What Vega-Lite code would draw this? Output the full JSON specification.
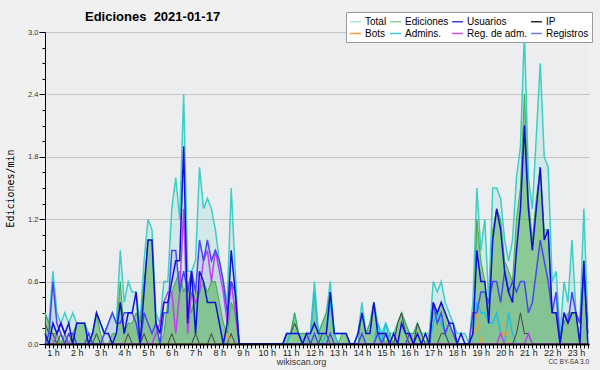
{
"$schema": "https://vega.github.io/schema/vega-lite/v6.json",
"width": 544, "height": 312,
"autosize": {"type": "none"},
"padding": {"left": 45, "top": 32, "right": 11, "bottom": 26},
"background": "#f0f0f0",
"config": {"view": {"fill": "#ecedef", "stroke": null}, "font": "Liberation Sans"},
"title": {"text": "Ediciones\u00a0 2021-01-17", "anchor": "start", "frame": "group", "dx": 40, "offset": -12, "fontSize": 13, "font": "Liberation Sans", "fontWeight": "bold", "color": "#000"},
"data": {"values": [
{"m":40,"tot":0.3,"ed":0.3,"us":0.1,"ip":0.2,"bo":0,"ad":0,"ra":0,"re":0},
{"m":50,"tot":0.2,"ed":0.2,"us":0,"ip":0.1,"bo":0,"ad":0,"ra":0,"re":0.1},
{"m":60,"tot":0.7,"ed":0.1,"us":0.2,"ip":0.1,"bo":0,"ad":0,"ra":0,"re":0.6},
{"m":70,"tot":0.3,"ed":0.1,"us":0.1,"ip":0,"bo":0,"ad":0,"ra":0.1,"re":0.2},
{"m":80,"tot":0.2,"ed":0,"us":0.2,"ip":0.1,"bo":0,"ad":0,"ra":0.2,"re":0.1},
{"m":90,"tot":0.3,"ed":0.1,"us":0.1,"ip":0,"bo":0,"ad":0,"ra":0.1,"re":0},
{"m":100,"tot":0.2,"ed":0,"us":0.2,"ip":0.1,"bo":0,"ad":0,"ra":0,"re":0.1},
{"m":110,"tot":0.3,"ed":0.1,"us":0,"ip":0,"bo":0,"ad":0,"ra":0,"re":0.1},
{"m":120,"tot":0.2,"ed":0.2,"us":0.2,"ip":0,"bo":0,"ad":0,"ra":0,"re":0},
{"m":130,"tot":0.2,"ed":0.2,"us":0.2,"ip":0,"bo":0,"ad":0,"ra":0,"re":0},
{"m":140,"tot":0.2,"ed":0.2,"us":0.2,"ip":0,"bo":0,"ad":0,"ra":0,"re":0},
{"m":150,"tot":0.1,"ed":0,"us":0,"ip":0.1,"bo":0,"ad":0,"ra":0,"re":0.1},
{"m":160,"tot":0.1,"ed":0.1,"us":0.1,"ip":0,"bo":0,"ad":0,"ra":0,"re":0},
{"m":170,"tot":0.3,"ed":0.3,"us":0.3,"ip":0.1,"bo":0,"ad":0,"ra":0,"re":0},
{"m":180,"tot":0.2,"ed":0.1,"us":0.2,"ip":0,"bo":0,"ad":0,"ra":0,"re":0},
{"m":190,"tot":0.1,"ed":0,"us":0.1,"ip":0,"bo":0,"ad":0,"ra":0,"re":0.1},
{"m":200,"tot":0.2,"ed":0,"us":0.1,"ip":0,"bo":0,"ad":0,"ra":0,"re":0.2},
{"m":210,"tot":0.3,"ed":0.1,"us":0,"ip":0,"bo":0,"ad":0,"ra":0,"re":0.3},
{"m":220,"tot":0.2,"ed":0.1,"us":0.1,"ip":0,"bo":0,"ad":0,"ra":0,"re":0.2},
{"m":230,"tot":0.9,"ed":0.6,"us":0.4,"ip":0,"bo":0,"ad":0,"ra":0,"re":0.2},
{"m":240,"tot":0.4,"ed":0.1,"us":0.1,"ip":0,"bo":0,"ad":0,"ra":0,"re":0.3},
{"m":250,"tot":0.6,"ed":0.2,"us":0.3,"ip":0.1,"bo":0,"ad":0,"ra":0,"re":0.3},
{"m":260,"tot":0.5,"ed":0.2,"us":0.3,"ip":0,"bo":0,"ad":0,"ra":0,"re":0.3},
{"m":270,"tot":0.5,"ed":0.3,"us":0.5,"ip":0,"bo":0,"ad":0,"ra":0,"re":0.2},
{"m":280,"tot":0.2,"ed":0.2,"us":0,"ip":0,"bo":0,"ad":0,"ra":0,"re":0},
{"m":290,"tot":0.8,"ed":0.6,"us":0.5,"ip":0.1,"bo":0,"ad":0,"ra":0,"re":0.3},
{"m":300,"tot":1.2,"ed":1.0,"us":1.0,"ip":0,"bo":0,"ad":0,"ra":0,"re":0.2},
{"m":310,"tot":1.1,"ed":1.0,"us":1.0,"ip":0,"bo":0,"ad":0,"ra":0,"re":0.1},
{"m":320,"tot":0.3,"ed":0.2,"us":0.2,"ip":0,"bo":0,"ad":0,"ra":0.1,"re":0.2},
{"m":330,"tot":0.2,"ed":0,"us":0.1,"ip":0,"bo":0,"ad":0,"ra":0.2,"re":0},
{"m":340,"tot":0.6,"ed":0.1,"us":0.4,"ip":0,"bo":0,"ad":0,"ra":0.4,"re":0.3},
{"m":350,"tot":0.6,"ed":0.4,"us":0.4,"ip":0,"bo":0,"ad":0,"ra":0.5,"re":0.3},
{"m":360,"tot":1.3,"ed":0.5,"us":0.6,"ip":0.1,"bo":0,"ad":0,"ra":0.5,"re":0.9},
{"m":370,"tot":1.6,"ed":0.6,"us":0.8,"ip":0,"bo":0,"ad":0,"ra":0.1,"re":0.9},
{"m":380,"tot":1.2,"ed":0.7,"us":0.8,"ip":0,"bo":0,"ad":0,"ra":0.5,"re":0.5},
{"m":390,"tot":2.4,"ed":0.5,"us":1.9,"ip":0,"bo":0,"ad":0,"ra":1.3,"re":0.7},
{"m":400,"tot":0.7,"ed":0.6,"us":0.2,"ip":0,"bo":0,"ad":0,"ra":0.1,"re":0.5},
{"m":410,"tot":0.7,"ed":0.3,"us":0.7,"ip":0,"bo":0,"ad":0,"ra":0.5,"re":0.7},
{"m":420,"tot":0.8,"ed":0.5,"us":0.1,"ip":0.1,"bo":0,"ad":0,"ra":0.4,"re":0.5},
{"m":430,"tot":1.7,"ed":0.5,"us":0.7,"ip":0,"bo":0,"ad":0,"ra":0.5,"re":1.0},
{"m":440,"tot":1.3,"ed":0.6,"us":0.6,"ip":0,"bo":0,"ad":0,"ra":0.8,"re":0.8},
{"m":450,"tot":1.4,"ed":0.5,"us":0.4,"ip":0,"bo":0,"ad":0,"ra":0.9,"re":1.0},
{"m":460,"tot":1.3,"ed":0.6,"us":0.4,"ip":0.1,"bo":0,"ad":0,"ra":0.6,"re":0.8},
{"m":470,"tot":1.1,"ed":0.6,"us":0.4,"ip":0,"bo":0,"ad":0,"ra":0.9,"re":0.9},
{"m":480,"tot":0.8,"ed":0.4,"us":0.2,"ip":0,"bo":0,"ad":0,"ra":0.7,"re":0.8},
{"m":490,"tot":0.6,"ed":0.2,"us":0,"ip":0,"bo":0,"ad":0,"ra":0.5,"re":0.6},
{"m":500,"tot":0.4,"ed":0.1,"us":0.2,"ip":0,"bo":0.1,"ad":0,"ra":0.2,"re":0.3},
{"m":510,"tot":1.5,"ed":0.4,"us":0.9,"ip":0.1,"bo":0,"ad":0,"ra":0.6,"re":0.6},
{"m":520,"tot":0.7,"ed":0.3,"us":0.5,"ip":0,"bo":0,"ad":0,"ra":0.3,"re":0.5},
{"m":530,"tot":0,"ed":0,"us":0,"ip":0,"bo":0,"ad":0,"ra":0,"re":0},
{"m":540,"tot":0,"ed":0,"us":0,"ip":0,"bo":0,"ad":0,"ra":0,"re":0},
{"m":550,"tot":0,"ed":0,"us":0,"ip":0,"bo":0,"ad":0,"ra":0,"re":0},
{"m":560,"tot":0,"ed":0,"us":0,"ip":0,"bo":0,"ad":0,"ra":0,"re":0},
{"m":570,"tot":0,"ed":0,"us":0,"ip":0,"bo":0,"ad":0,"ra":0,"re":0},
{"m":580,"tot":0,"ed":0,"us":0,"ip":0,"bo":0,"ad":0,"ra":0,"re":0},
{"m":590,"tot":0,"ed":0,"us":0,"ip":0,"bo":0,"ad":0,"ra":0,"re":0},
{"m":600,"tot":0,"ed":0,"us":0,"ip":0,"bo":0,"ad":0,"ra":0,"re":0},
{"m":610,"tot":0,"ed":0,"us":0,"ip":0,"bo":0,"ad":0,"ra":0,"re":0},
{"m":620,"tot":0,"ed":0,"us":0,"ip":0,"bo":0,"ad":0,"ra":0,"re":0},
{"m":630,"tot":0,"ed":0,"us":0,"ip":0,"bo":0,"ad":0,"ra":0,"re":0},
{"m":640,"tot":0,"ed":0,"us":0,"ip":0,"bo":0,"ad":0,"ra":0,"re":0},
{"m":650,"tot":0.1,"ed":0.1,"us":0.1,"ip":0.1,"bo":0,"ad":0,"ra":0,"re":0},
{"m":660,"tot":0.1,"ed":0.1,"us":0.1,"ip":0.1,"bo":0,"ad":0.1,"ra":0,"re":0},
{"m":670,"tot":0.3,"ed":0.3,"us":0.1,"ip":0.2,"bo":0,"ad":0.1,"ra":0,"re":0},
{"m":680,"tot":0.1,"ed":0.1,"us":0.1,"ip":0.1,"bo":0,"ad":0.1,"ra":0,"re":0},
{"m":690,"tot":0.1,"ed":0.1,"us":0,"ip":0,"bo":0,"ad":0,"ra":0,"re":0},
{"m":700,"tot":0.1,"ed":0.1,"us":0.1,"ip":0,"bo":0,"ad":0,"ra":0,"re":0.1},
{"m":710,"tot":0.1,"ed":0.1,"us":0.1,"ip":0,"bo":0,"ad":0.1,"ra":0,"re":0},
{"m":720,"tot":0.6,"ed":0.5,"us":0.2,"ip":0,"bo":0,"ad":0.5,"ra":0,"re":0.1},
{"m":730,"tot":0.1,"ed":0.1,"us":0.1,"ip":0,"bo":0,"ad":0.1,"ra":0,"re":0},
{"m":740,"tot":0.2,"ed":0.2,"us":0.1,"ip":0.1,"bo":0,"ad":0,"ra":0,"re":0},
{"m":750,"tot":0.3,"ed":0.3,"us":0.1,"ip":0.1,"bo":0,"ad":0.1,"ra":0,"re":0},
{"m":760,"tot":0.6,"ed":0.5,"us":0.5,"ip":0,"bo":0,"ad":0.4,"ra":0,"re":0.1},
{"m":770,"tot":0.1,"ed":0.1,"us":0.1,"ip":0,"bo":0,"ad":0.1,"ra":0,"re":0},
{"m":780,"tot":0.1,"ed":0,"us":0.1,"ip":0,"bo":0,"ad":0,"ra":0,"re":0},
{"m":790,"tot":0.1,"ed":0.1,"us":0.1,"ip":0,"bo":0,"ad":0,"ra":0,"re":0},
{"m":800,"tot":0.1,"ed":0.1,"us":0.1,"ip":0,"bo":0,"ad":0,"ra":0,"re":0},
{"m":810,"tot":0,"ed":0,"us":0,"ip":0,"bo":0,"ad":0,"ra":0,"re":0},
{"m":820,"tot":0,"ed":0,"us":0,"ip":0,"bo":0,"ad":0,"ra":0,"re":0},
{"m":830,"tot":0.1,"ed":0,"us":0.1,"ip":0,"bo":0,"ad":0,"ra":0,"re":0},
{"m":840,"tot":0.4,"ed":0.3,"us":0.3,"ip":0,"bo":0,"ad":0,"ra":0,"re":0.1},
{"m":850,"tot":0.1,"ed":0.1,"us":0.1,"ip":0,"bo":0,"ad":0,"ra":0,"re":0},
{"m":860,"tot":0.2,"ed":0.2,"us":0.1,"ip":0,"bo":0,"ad":0,"ra":0,"re":0},
{"m":870,"tot":0.4,"ed":0.4,"us":0.4,"ip":0,"bo":0,"ad":0,"ra":0,"re":0},
{"m":880,"tot":0.2,"ed":0.1,"us":0.1,"ip":0,"bo":0,"ad":0.2,"ra":0,"re":0.1},
{"m":890,"tot":0.1,"ed":0.1,"us":0.1,"ip":0,"bo":0,"ad":0,"ra":0,"re":0},
{"m":900,"tot":0.2,"ed":0,"us":0.1,"ip":0,"bo":0,"ad":0.2,"ra":0,"re":0.1},
{"m":910,"tot":0.1,"ed":0.1,"us":0,"ip":0,"bo":0,"ad":0,"ra":0,"re":0},
{"m":920,"tot":0.1,"ed":0,"us":0.1,"ip":0,"bo":0,"ad":0,"ra":0,"re":0},
{"m":930,"tot":0.2,"ed":0.2,"us":0,"ip":0.2,"bo":0,"ad":0,"ra":0,"re":0},
{"m":940,"tot":0.3,"ed":0.3,"us":0.2,"ip":0.3,"bo":0,"ad":0,"ra":0,"re":0},
{"m":950,"tot":0.2,"ed":0.2,"us":0.1,"ip":0.1,"bo":0,"ad":0,"ra":0,"re":0},
{"m":960,"tot":0.1,"ed":0.1,"us":0.1,"ip":0,"bo":0,"ad":0,"ra":0,"re":0.1},
{"m":970,"tot":0.1,"ed":0.1,"us":0,"ip":0,"bo":0,"ad":0,"ra":0,"re":0},
{"m":980,"tot":0.2,"ed":0.2,"us":0.1,"ip":0.2,"bo":0,"ad":0,"ra":0,"re":0},
{"m":990,"tot":0.1,"ed":0.1,"us":0,"ip":0.1,"bo":0,"ad":0,"ra":0,"re":0},
{"m":1000,"tot":0.1,"ed":0,"us":0.1,"ip":0,"bo":0,"ad":0,"ra":0,"re":0},
{"m":1010,"tot":0.1,"ed":0.1,"us":0,"ip":0,"bo":0,"ad":0,"ra":0,"re":0},
{"m":1020,"tot":0.6,"ed":0.3,"us":0.4,"ip":0,"bo":0,"ad":0.2,"ra":0,"re":0.4},
{"m":1030,"tot":0.5,"ed":0.3,"us":0.3,"ip":0,"bo":0,"ad":0.3,"ra":0,"re":0.2},
{"m":1040,"tot":0.6,"ed":0.4,"us":0.4,"ip":0.1,"bo":0,"ad":0.2,"ra":0,"re":0.3},
{"m":1050,"tot":0.4,"ed":0.3,"us":0.3,"ip":0.1,"bo":0,"ad":0.1,"ra":0,"re":0.1},
{"m":1060,"tot":0.3,"ed":0.2,"us":0.2,"ip":0,"bo":0,"ad":0,"ra":0,"re":0.2},
{"m":1070,"tot":0.2,"ed":0.1,"us":0.2,"ip":0,"bo":0,"ad":0,"ra":0,"re":0.1},
{"m":1080,"tot":0.1,"ed":0,"us":0,"ip":0,"bo":0,"ad":0,"ra":0,"re":0},
{"m":1090,"tot":0.1,"ed":0,"us":0.1,"ip":0,"bo":0,"ad":0,"ra":0,"re":0},
{"m":1100,"tot":0.1,"ed":0,"us":0,"ip":0,"bo":0,"ad":0,"ra":0,"re":0},
{"m":1110,"tot":0,"ed":0,"us":0,"ip":0,"bo":0,"ad":0,"ra":0,"re":0},
{"m":1120,"tot":0.4,"ed":0.1,"us":0.1,"ip":0,"bo":0,"ad":0,"ra":0,"re":0.3},
{"m":1130,"tot":1.5,"ed":1.2,"us":0.9,"ip":0,"bo":0.3,"ad":0.4,"ra":0,"re":0.3},
{"m":1140,"tot":0.9,"ed":0.8,"us":0.6,"ip":0,"bo":0,"ad":0.3,"ra":0,"re":0.5},
{"m":1150,"tot":1.2,"ed":0.6,"us":0.6,"ip":0,"bo":0,"ad":0.3,"ra":0,"re":0.5},
{"m":1160,"tot":0.4,"ed":0.3,"us":0.2,"ip":0,"bo":0,"ad":0.2,"ra":0,"re":0.4},
{"m":1170,"tot":1.5,"ed":1.1,"us":1.0,"ip":0,"bo":0,"ad":0.2,"ra":0,"re":0.6},
{"m":1180,"tot":1.5,"ed":1.3,"us":1.3,"ip":0,"bo":0,"ad":0.3,"ra":0,"re":0.6},
{"m":1190,"tot":1.4,"ed":1.2,"us":1.1,"ip":0,"bo":0,"ad":0.1,"ra":0.1,"re":0.4},
{"m":1200,"tot":1.0,"ed":0.8,"us":0.7,"ip":0,"bo":0.2,"ad":0,"ra":0,"re":0.7},
{"m":1210,"tot":0.8,"ed":0.7,"us":0.5,"ip":0,"bo":0,"ad":0.3,"ra":0,"re":0.5},
{"m":1220,"tot":1.0,"ed":0.6,"us":0.4,"ip":0,"bo":0,"ad":0.1,"ra":0,"re":0.6},
{"m":1230,"tot":1.6,"ed":1.2,"us":0.9,"ip":0.1,"bo":0,"ad":0,"ra":0,"re":0.5},
{"m":1240,"tot":1.9,"ed":1.5,"us":1.3,"ip":0.3,"bo":0,"ad":0,"ra":0,"re":0.6},
{"m":1250,"tot":3.0,"ed":2.4,"us":2.1,"ip":0.1,"bo":0,"ad":0,"ra":0,"re":0.6},
{"m":1260,"tot":1.6,"ed":1.4,"us":1.3,"ip":0.1,"bo":0,"ad":0,"ra":0.1,"re":0.3},
{"m":1270,"tot":1.3,"ed":1.0,"us":0.9,"ip":0,"bo":0,"ad":0,"ra":0,"re":0.4},
{"m":1280,"tot":2.0,"ed":1.4,"us":1.3,"ip":0,"bo":0,"ad":0,"ra":0,"re":0.7},
{"m":1290,"tot":2.7,"ed":1.7,"us":1.7,"ip":0,"bo":0,"ad":0,"ra":0,"re":1.0},
{"m":1300,"tot":1.8,"ed":1.1,"us":1.0,"ip":0,"bo":0,"ad":0,"ra":0,"re":0.8},
{"m":1310,"tot":1.7,"ed":1.1,"us":1.1,"ip":0,"bo":0,"ad":0,"ra":0,"re":0.6},
{"m":1320,"tot":0.6,"ed":0.3,"us":0.3,"ip":0,"bo":0,"ad":0,"ra":0,"re":0.3},
{"m":1330,"tot":0.7,"ed":0.3,"us":0.3,"ip":0,"bo":0,"ad":0,"ra":0,"re":0.5},
{"m":1340,"tot":0.1,"ed":0.1,"us":0,"ip":0,"bo":0,"ad":0,"ra":0,"re":0},
{"m":1350,"tot":0.6,"ed":0.2,"us":0.3,"ip":0,"bo":0,"ad":0,"ra":0,"re":0.3},
{"m":1360,"tot":0.4,"ed":0.3,"us":0.2,"ip":0,"bo":0,"ad":0,"ra":0,"re":0.2},
{"m":1370,"tot":1.0,"ed":0.3,"us":0.3,"ip":0,"bo":0,"ad":0,"ra":0,"re":0.5},
{"m":1380,"tot":0.3,"ed":0.3,"us":0.3,"ip":0,"bo":0,"ad":0,"ra":0,"re":0.3},
{"m":1390,"tot":0.2,"ed":0,"us":0,"ip":0,"bo":0,"ad":0,"ra":0,"re":0.2},
{"m":1400,"tot":1.3,"ed":0.8,"us":0.8,"ip":0,"bo":0,"ad":0,"ra":0,"re":0.7},
{"m":1410,"tot":0.2,"ed":0.1,"us":0,"ip":0,"bo":0,"ad":0,"ra":0,"re":0.1}
]},
"encoding": {
  "x": {"field": "m", "type": "quantitative", "scale": {"domain": [40, 1413], "nice": false, "zero": false},
    "axis": {"values": [40,50,60,70,80,90,100,110,120,130,140,150,160,170,180,190,200,210,220,230,240,250,260,270,280,290,300,310,320,330,340,350,360,370,380,390,400,410,420,430,440,450,460,470,480,490,500,510,520,530,540,550,560,570,580,590,600,610,620,630,640,650,660,670,680,690,700,710,720,730,740,750,760,770,780,790,800,810,820,830,840,850,860,870,880,890,900,910,920,930,940,950,960,970,980,990,1000,1010,1020,1030,1040,1050,1060,1070,1080,1090,1100,1110,1120,1130,1140,1150,1160,1170,1180,1190,1200,1210,1220,1230,1240,1250,1260,1270,1280,1290,1300,1310,1320,1330,1340,1350,1360,1370,1380,1390,1400,1410],
      "labelExpr": "datum.value % 60 == 0 ? (datum.value / 60) + ' h' : ''",
      "labelOverlap": false, "labelFlush": false, "labelFont": "Liberation Sans", "labelFontSize": 9, "labelColor": "#222", "labelPadding": 0,
      "tickSize": 4, "tickColor": "#000", "domainColor": "#000", "domainWidth": 2, "grid": false, "zindex": 1,
      "title": "wikiscan.org", "titleFont": "Liberation Sans", "titleFontSize": 9, "titleFontWeight": "normal", "titleColor": "#333",
      "titleX": 256, "titleY": 17, "titleAlign": "center", "titleBaseline": "middle"}},
  "y": {"field": "value", "type": "quantitative", "scale": {"domain": [0, 3], "nice": false},
     "axis": {"title": "Ediciones/min",
       "values": [0,0.15,0.3,0.45,0.6,0.75,0.9,1.05,1.2,1.35,1.5,1.65,1.8,1.95,2.1,2.25,2.4,2.55,2.7,2.85,3],
       "labelExpr": "abs(datum.value/0.6 - round(datum.value/0.6)) < 0.01 ? format(datum.value, '.1f') : ''",
       "tickSize": {"condition": {"test": "abs(datum.value/0.6 - round(datum.value/0.6)) < 0.01", "value": 6}, "value": 3},
       "tickColor": "#000", "domainColor": "#000", "domainWidth": 1,
       "grid": true, "gridColor": "#c4c4c4",
       "gridOpacity": {"condition": {"test": "abs(datum.value/0.6 - round(datum.value/0.6)) < 0.01", "value": 1}, "value": 0},
       "labelFont": "Liberation Sans", "labelFontSize": 7.5, "labelColor": "#333", "labelPadding": 1, "labelOverlap": false,
       "titleFont": "DejaVu Sans Mono", "titleFontSize": 10, "titleFontWeight": "normal", "titleColor": "#000",
       "titleX": -35, "titleY": 156, "titleAngle": 270, "titleAlign": "center", "titleBaseline": "middle"}}
},
"layer": [
  {"transform": [{"fold": ["tot"], "as": ["key", "value"]}], "mark": {"type": "area", "color": "#40d0c0", "opacity": 0.14}},
  {"transform": [{"fold": ["re"], "as": ["key", "value"]}], "mark": {"type": "area", "color": "#b6c9e2", "opacity": 0.5}},
  {"transform": [{"fold": ["ed"], "as": ["key", "value"]}], "mark": {"type": "area", "color": "#50b050", "opacity": 0.55}},
  {"transform": [{"fold": ["tot"], "as": ["key", "value"]}], "mark": {"type": "line", "color": "#3dcfc5", "strokeWidth": 1.5}},
  {"transform": [{"fold": ["ed"], "as": ["key", "value"]}], "mark": {"type": "line", "color": "#45a845", "strokeWidth": 1}},
  {"transform": [{"fold": ["ad"], "as": ["key", "value"]}], "mark": {"type": "line", "color": "#20c0e0", "strokeWidth": 1.5}},
  {"transform": [{"fold": ["ip"], "as": ["key", "value"]}], "mark": {"type": "line", "color": "#444444", "strokeWidth": 1}},
  {"transform": [{"fold": ["bo"], "as": ["key", "value"]}], "mark": {"type": "line", "color": "#f0a030", "strokeWidth": 1}},
  {"transform": [{"fold": ["ra"], "as": ["key", "value"]}], "mark": {"type": "line", "color": "#c040f0", "strokeWidth": 1.5}},
  {"transform": [{"fold": ["re"], "as": ["key", "value"]}], "mark": {"type": "line", "color": "#4848f0", "strokeWidth": 1.5}},
  {"transform": [{"fold": ["us"], "as": ["key", "value"]}], "mark": {"type": "line", "color": "#1010d8", "strokeWidth": 1.5}},
  {"data": {"values": [{"m": 1413, "value": -0.17, "txt": "CC BY-SA 3.0"}]},
   "mark": {"type": "text", "align": "right", "baseline": "middle", "fontSize": 6.5, "font": "Liberation Sans", "color": "#333"},
   "encoding": {"text": {"field": "txt"}}},
  {"data": {"values": [{"s": "Total"}, {"s": "Bots"}, {"s": "Ediciones"}, {"s": "Admins."}, {"s": "Usuarios"}, {"s": "Reg. de adm."}, {"s": "IP"}, {"s": "Registros"}]},
   "mark": {"type": "point", "opacity": 0},
   "encoding": {"color": {"field": "s", "type": "nominal",
     "scale": {"domain": ["Total", "Bots", "Ediciones", "Admins.", "Usuarios", "Reg. de adm.", "IP", "Registros"],
               "range": ["#a8e8e0", "#f0a040", "#90d890", "#40c8e0", "#4040e0", "#d050e0", "#303030", "#7878f0"]},
     "legend": {"title": null, "orient": "none", "legendX": 301, "legendY": -20, "direction": "vertical", "columns": 4,
       "symbolType": "stroke", "symbolSize": 121, "symbolStrokeWidth": 1.5, "symbolOpacity": 1,
       "labelFont": "Liberation Sans", "labelFontSize": 10, "labelColor": "#000", "labelOffset": 3, "labelLimit": 200,
       "columnPadding": 0, "rowPadding": 0, "padding": 3, "fillColor": "#ffffff", "strokeColor": "#999999"}}}}
]
}
